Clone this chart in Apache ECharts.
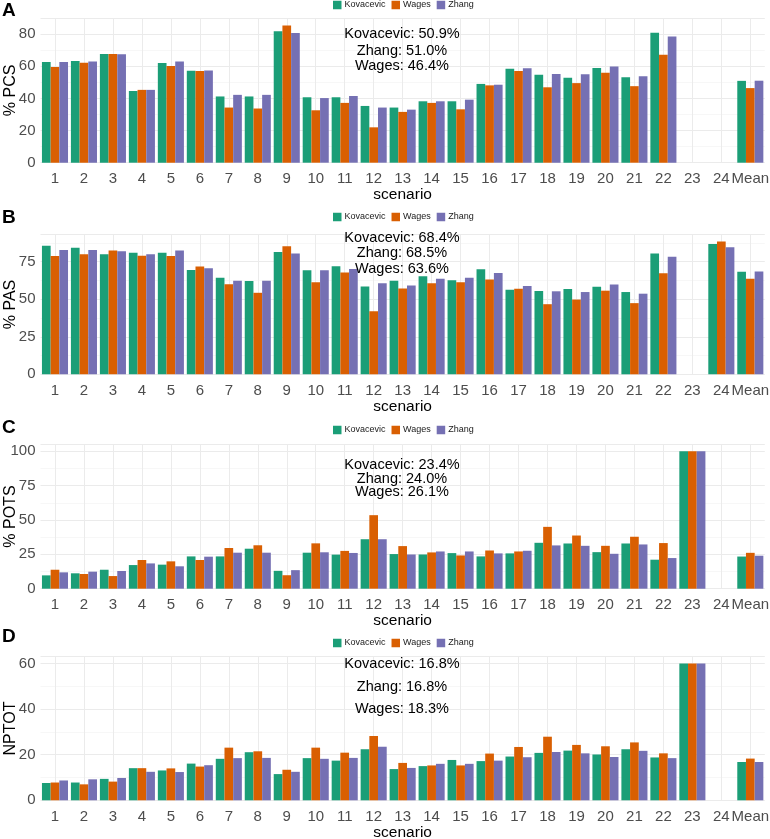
<!DOCTYPE html>
<html>
<head>
<meta charset="utf-8">
<title>scenario comparison</title>
<script src="https://cdn.jsdelivr.net/npm/echarts@6.0.0/dist/echarts.min.js"></script>
<style>
html, body { margin: 0; padding: 0; background: #fff; }
#chart { width: 770px; height: 839px; }
</style>
</head>
<body>
<div id="chart"></div>
<script>
// 场景（横轴）
const scenarios = ['1', '2', '3', '4', '5', '6', '7', '8', '9', '10', '11', '12', '13',
    '14', '15', '16', '17', '18', '19', '20', '21', '22', '23', '24', 'Mean'];
const methods = ['Kovacevic', 'Wages', 'Zhang'];
const methodColors = ['#1B9E77', '#D95F02', '#7570B3'];

// A: % PCS
const pcsKovacevic = [62.7, 63.2, 67.6, 44.6, 62.0, 57.2, 41.2, 41.2, 81.7, 40.7, 40.7, 35.3, 34.3,
    38.2, 38.2, 49.0, 58.5, 54.7, 52.9, 58.9, 53.2, 80.8, null, null, 50.9];
const pcsWages = [59.5, 62.2, 67.6, 45.3, 60.2, 57.0, 34.3, 33.7, 85.4, 32.6, 37.2, 22.0, 31.6,
    37.2, 33.2, 48.1, 57.0, 46.9, 49.5, 55.9, 47.6, 67.2, null, null, 46.4];
const pcsZhang = [62.6, 62.9, 67.4, 45.3, 63.0, 57.4, 42.2, 42.2, 80.6, 40.2, 41.5, 34.3, 33.0,
    38.2, 39.2, 48.5, 58.7, 55.2, 55.0, 59.8, 53.8, 78.5, null, null, 51.0];
const pcsNotes = ['Kovacevic: 50.9%', 'Zhang: 51.0%', 'Wages: 46.4%'];

// B: % PAS
const pasKovacevic = [85.6, 84.3, 79.9, 81.0, 81.0, 69.5, 64.4, 62.2, 81.5, 69.3, 72.0, 58.5, 62.3,
    65.4, 62.7, 70.0, 56.4, 55.5, 56.8, 58.3, 54.8, 80.5, null, 86.8, 68.4];
const pasWages = [78.8, 79.9, 82.5, 79.0, 78.8, 71.8, 60.0, 54.3, 85.3, 61.3, 67.8, 42.0, 57.2,
    60.7, 61.4, 63.2, 57.0, 46.7, 49.8, 55.7, 47.4, 67.3, null, 88.4, 63.6];
const pasZhang = [82.8, 82.8, 81.9, 79.9, 82.5, 70.6, 62.3, 62.3, 80.5, 69.3, 70.1, 60.6, 59.2,
    63.6, 64.3, 67.5, 58.8, 55.3, 54.8, 59.9, 53.7, 78.3, null, 84.6, 68.5];
const pasNotes = ['Kovacevic: 68.4%', 'Zhang: 68.5%', 'Wages: 63.6%'];

// C: % POTS
const potsKovacevic = [9.7, 11.2, 13.8, 17.2, 17.5, 23.5, 23.5, 29.1, 13.0, 26.2, 24.8, 36.0, 25.2,
    24.9, 25.9, 23.5, 25.7, 33.4, 32.9, 26.6, 32.9, 21.1, 100, null, 23.4];
const potsWages = [13.8, 10.7, 9.2, 20.9, 19.9, 20.9, 29.6, 31.6, 9.8, 33.0, 27.5, 53.5, 31.0,
    26.4, 24.2, 27.8, 27.1, 45.0, 38.7, 31.2, 37.8, 33.2, 100, null, 26.1];
const potsZhang = [11.9, 12.4, 12.9, 18.4, 16.3, 23.3, 26.2, 26.2, 13.5, 26.5, 26.0, 36.0, 24.9,
    27.1, 27.1, 25.7, 27.6, 31.5, 31.2, 25.4, 32.2, 22.3, 100, null, 24.0];
const potsNotes = ['Kovacevic: 23.4%', 'Zhang: 24.0%', 'Wages: 26.1%'];

// D: NPTOT
const nptotKovacevic = [7.6, 7.8, 9.4, 14.1, 13.1, 16.1, 18.2, 21.1, 11.5, 18.5, 17.4, 22.4, 13.7,
    15.0, 17.7, 17.2, 19.2, 20.8, 21.8, 20.1, 22.4, 18.8, 60, null, 16.8];
const nptotWages = [7.8, 7.0, 8.2, 14.1, 14.0, 14.8, 23.1, 21.5, 13.4, 23.1, 20.9, 28.2, 16.4,
    15.3, 15.3, 20.5, 23.4, 27.9, 24.3, 23.7, 25.4, 20.6, 60, null, 18.3];
const nptotZhang = [8.7, 9.2, 9.8, 12.5, 12.4, 15.4, 18.5, 18.6, 12.5, 18.2, 18.6, 23.5, 14.2,
    16.0, 16.0, 17.4, 18.9, 21.2, 20.6, 19.0, 21.7, 18.5, 60, null, 16.8];
const nptotNotes = ['Kovacevic: 16.8%', 'Zhang: 16.8%', 'Wages: 18.3%'];

// 各面板的布局
const panels = [
    { tag: 'A', tagY: 11, yName: '% PCS', data: [pcsKovacevic, pcsWages, pcsZhang], notes: pcsNotes,
      top: 18, height: 144.7, max: 90, interval: 20, legendTop: 0.5, noteY: [34, 51, 66] },
    { tag: 'B', tagY: 218, yName: '% PAS', data: [pasKovacevic, pasWages, pasZhang], notes: pasNotes,
      top: 234.7, height: 139.6, max: 93, interval: 25, legendTop: 212.5, noteY: [238, 253, 269] },
    { tag: 'C', tagY: 428, yName: '% POTS', data: [potsKovacevic, potsWages, potsZhang], notes: potsNotes,
      top: 444.4, height: 144.3, max: 105, interval: 25, legendTop: 425.5, noteY: [465, 479, 492] },
    { tag: 'D', tagY: 637, yName: 'NPTOT', data: [nptotKovacevic, nptotWages, nptotZhang], notes: nptotNotes,
      top: 656.7, height: 143.6, max: 63, interval: 20, legendTop: 638.5, noteY: [664, 687, 709] }
];

const fontFamily = '"Liberation Sans", Arial, sans-serif';
const chart = echarts.init(document.getElementById('chart'));

const grids = [], xAxes = [], yAxes = [], legends = [], series = [], graphics = [];

panels.forEach(function(p, i) {
    grids.push({ left: 40.5, width: 724.3, top: p.top, height: p.height, outerBoundsMode: 'none', containLabel: false });

    xAxes.push({
        type: 'category',
        gridIndex: i,
        data: scenarios,
        axisLine: { show: false },
        // 竖向网格线：用贯穿面板的刻度线画在类别中心
        axisTick: { show: true, alignWithLabel: true, inside: true, length: p.height, lineStyle: { color: '#EBEBEB', width: 1 } },
        axisLabel: { interval: 0, fontSize: 15, color: '#4D4D4D', margin: 9, fontFamily: fontFamily },
        splitLine: { show: false },
        name: 'scenario',
        nameLocation: 'middle',
        nameGap: 24,
        nameMoveOverlap: false,
        nameTextStyle: { fontSize: 15.5, color: '#000', fontFamily: fontFamily }
    });

    yAxes.push({
        type: 'value',
        gridIndex: i,
        min: 0,
        max: p.max,
        interval: p.interval,
        axisLine: { show: false },
        axisTick: { show: false },
        axisLabel: { fontSize: 15, color: '#4D4D4D', margin: 5, showMaxLabel: false, fontFamily: fontFamily },
        splitLine: { lineStyle: { color: '#EBEBEB', width: 1 } },
        minorTick: { show: false, splitNumber: 2 },
        minorSplitLine: { show: true, lineStyle: { color: '#F3F3F3', width: 0.7 } },
        name: p.yName,
        nameLocation: 'middle',
        nameGap: 22,
        nameMoveOverlap: false,
        nameTextStyle: { fontSize: 16, color: '#000', fontFamily: fontFamily }
    });

    legends.push({
        data: methods,
        left: 333,
        top: p.legendTop,
        padding: 0,
        icon: 'rect',
        itemWidth: 8.5,
        itemHeight: 8.5,
        itemGap: 6,
        textStyle: { fontSize: 9, color: '#1a1a1a', fontFamily: fontFamily, padding: [0, 0, 0, -2] },
        selectedMode: false
    });

    methods.forEach(function(m, k) {
        series.push({
            name: m,
            type: 'bar',
            xAxisIndex: i,
            yAxisIndex: i,
            data: p.data[k],
            itemStyle: { color: methodColors[k] },
            barGap: '0%',
            barCategoryGap: '10%'
        });
    });

    // 面板字母
    graphics.push({
        type: 'text', left: 2, top: p.tagY - 10, z: 100,
        style: { text: p.tag, fontSize: 19, fontWeight: 'bold', fill: '#000', stroke: 'none', lineWidth: 0, fontFamily: fontFamily }
    });

    // 平均值注释
    p.notes.forEach(function(t, j) {
        graphics.push({
            type: 'text', x: 402, y: p.noteY[j], z: 100,
            style: { text: t, fontSize: 14.5, fill: '#000', stroke: 'none', lineWidth: 0,
                     align: 'center', verticalAlign: 'middle', fontFamily: fontFamily }
        });
    });
});

chart.setOption({
    animation: false,
    grid: grids,
    xAxis: xAxes,
    yAxis: yAxes,
    legend: legends,
    series: series,
    graphic: graphics
});
</script>
</body>
</html>
